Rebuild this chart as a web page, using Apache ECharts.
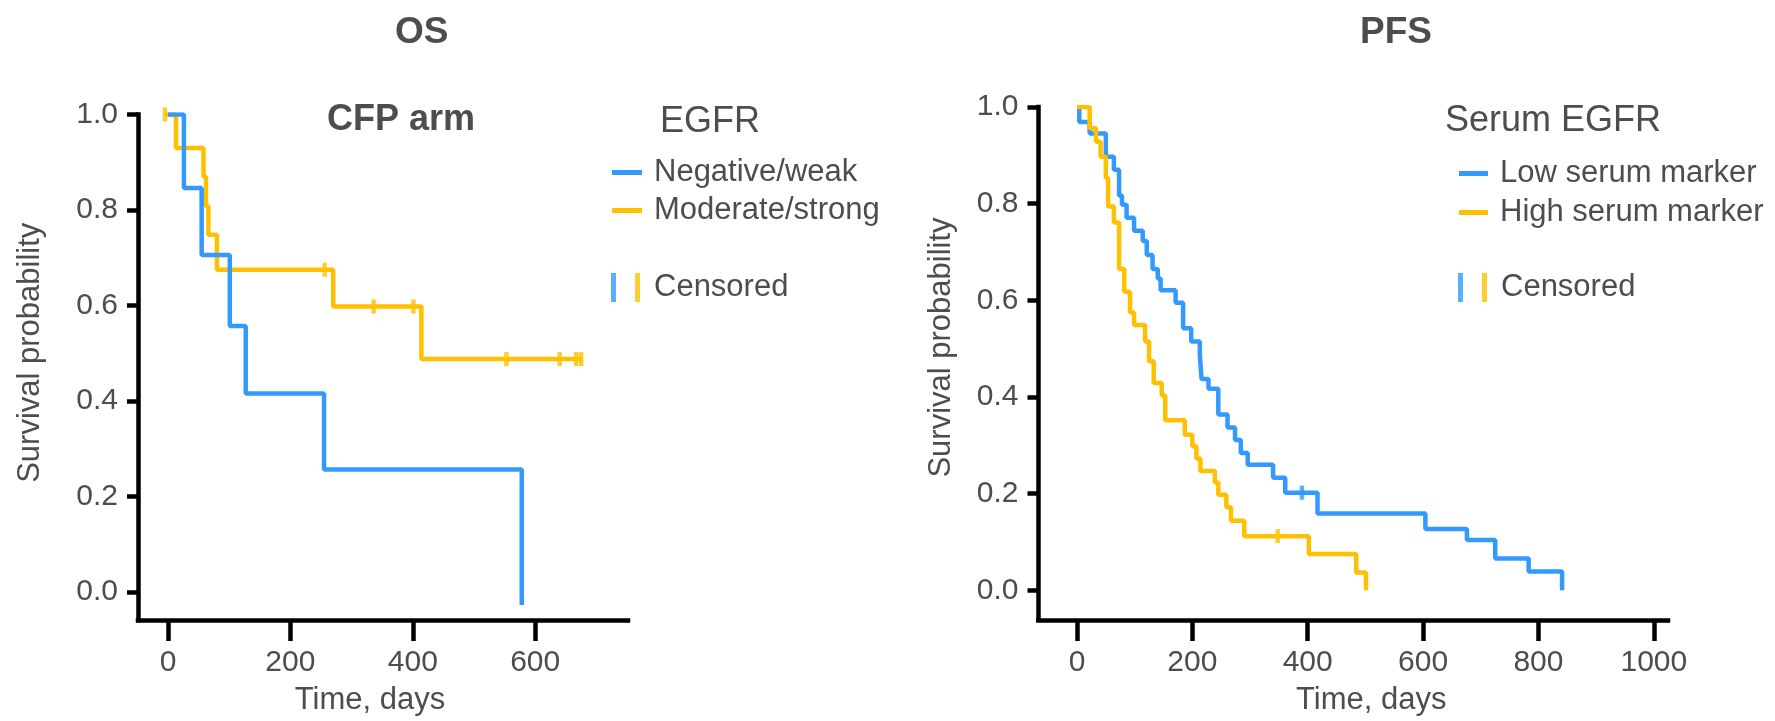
<!DOCTYPE html>
<html>
<head>
<meta charset="utf-8">
<title>OS / PFS</title>
<script src="https://cdn.jsdelivr.net/npm/echarts@6/dist/echarts.min.js"></script>
<style>
html, body { margin: 0; padding: 0; background: #fff; }
#chart { width: 1775px; height: 721px; }
</style>
</head>
<body>
<div id="chart"></div>
<script>
// OS, CFP arm -- [time in days, survival probability]
var osNegWeak = [[0, 1], [26, 0.846], [55, 0.706], [101, 0.557], [127, 0.416], [255, 0.257], [578, -0.027]];
var osModStrong = [[-5, 1], [13, 0.930], [58, 0.870], [62, 0.808], [66, 0.748], [80, 0.675], [270, 0.598], [414, 0.488], [677, 0.488]];
var osCensorMod = [[-5, 1], [256, 0.675], [336, 0.598], [401, 0.598], [553, 0.488], [640, 0.488], [667, 0.488], [675, 0.488]];

// PFS, serum EGFR
var pfsLow = [[0, 1], [4, 0.969], [22, 0.945], [50, 0.897], [64, 0.870], [73, 0.817], [78, 0.798], [86, 0.771],
  [99, 0.744], [114, 0.723], [121, 0.694], [131, 0.665], [140, 0.645], [145, 0.621], [171, 0.595], [184, 0.542],
  [198, 0.515], [213, 0.487], [216, 0.437], [228, 0.417], [245, 0.364], [261, 0.337], [274, 0.311], [284, 0.284],
  [296, 0.260], [340, 0.233], [361, 0.202], [417, 0.159], [604, 0.127], [676, 0.104], [725, 0.066], [783, 0.039], [841, 0]];
var pfsHigh = [[0, 1], [22, 0.956], [33, 0.928], [41, 0.897], [50, 0.853], [54, 0.794], [64, 0.761], [73, 0.665],
  [82, 0.618], [92, 0.575], [99, 0.549], [118, 0.515], [125, 0.474], [133, 0.429], [147, 0.403], [153, 0.352],
  [187, 0.322], [200, 0.298], [207, 0.273], [214, 0.247], [239, 0.223], [245, 0.198], [259, 0.172], [267, 0.144],
  [290, 0.112], [402, 0.075], [484, 0.037], [501, 0]];
var pfsCensorLow = [[390, 0.202]];
var pfsCensorHigh = [[348, 0.112]];

var yTicks = [0, 0.2, 0.4, 0.6, 0.8, 1];
var osXTicks = [0, 200, 400, 600];
var pfsXTicks = [0, 200, 400, 600, 800, 1000];

var blue = '#3399ff';
var gold = '#ffc000';
var grey = '#4d4d4d';
var font = "'Liberation Sans', Arial, sans-serif";

var censorSvg = "<svg xmlns='http://www.w3.org/2000/svg' width='38' height='29'>" +
  "<rect x='0' y='0' width='5' height='29' fill='" + blue + "'/>" +
  "<rect x='24' y='0' width='5' height='29' fill='" + gold + "'/></svg>";
var censorIcon = 'image://data:image/svg+xml;charset=utf-8,' + encodeURIComponent(censorSvg);

function xAxisCfg(idx, min, max, ticks, pad) {
  return {
    gridIndex: idx, type: 'value', min: min, max: max,
    axisLine: { show: true, onZero: false, lineStyle: { color: '#000', width: 4.5, cap: 'square' } },
    axisTick: { show: true, length: 21, customValues: ticks, lineStyle: { color: '#000', width: 4.5 } },
    axisLabel: {
      customValues: ticks, fontSize: 30, color: grey, fontFamily: font, margin: 28,
      formatter: function (v) { return String(v); }
    },
    splitLine: { show: false },
    name: 'Time, days', nameLocation: 'middle', nameGap: 65,
    nameTextStyle: { fontSize: 31, color: grey, fontFamily: font, padding: pad }
  };
}

function yAxisCfg(idx, min, gap, pad) {
  return {
    gridIndex: idx, type: 'value', min: min, max: 1,
    axisLine: { show: true, onZero: false, lineStyle: { color: '#000', width: 4.5, cap: 'square' } },
    axisTick: { show: true, length: 11, customValues: yTicks, lineStyle: { color: '#000', width: 4.5 } },
    axisLabel: {
      customValues: yTicks, fontSize: 30, color: grey, fontFamily: font, margin: 20,
      formatter: function (v) { return v.toFixed(1); }
    },
    splitLine: { show: false },
    name: 'Survival probability', nameLocation: 'middle', nameRotate: 90, nameGap: gap,
    nameTextStyle: { fontSize: 31, color: grey, fontFamily: font, padding: pad }
  };
}

function km(name, data, color, idx, z) {
  return {
    name: name, type: 'line', step: 'end', data: data,
    xAxisIndex: idx, yAxisIndex: idx, showSymbol: false, z: z,
    lineStyle: { color: color, width: 4.5 }, itemStyle: { color: color },
    silent: true
  };
}

function censor(data, color, idx) {
  return {
    name: 'Censored', type: 'scatter', data: data,
    xAxisIndex: idx, yAxisIndex: idx, symbol: 'rect', symbolSize: [4.5, 14], z: 5,
    itemStyle: { color: color }, silent: true
  };
}

var legendText = { fontSize: 31, color: grey, fontFamily: font, padding: [0, 0, 0, 7] };
var censorText = { fontSize: 31, color: grey, fontFamily: font };
var titleBold = { fontSize: 37, fontWeight: 'bold', color: grey, fontFamily: font };

var chart = echarts.init(document.getElementById('chart'), null, { renderer: 'canvas' });
chart.setOption({
  animation: false,
  backgroundColor: '#fff',
  title: [
    { text: 'OS', left: 395, top: 14, padding: 0, textStyle: titleBold },
    { text: 'PFS', left: 1360, top: 14, padding: 0, textStyle: titleBold },
    { text: 'CFP arm', left: 327, top: 102, padding: 0, textStyle: { fontSize: 36, fontWeight: 'bold', color: grey, fontFamily: font } },
    { text: 'EGFR', left: 660, top: 104, padding: 0, textStyle: { fontSize: 36, fontWeight: 'normal', color: grey, fontFamily: font } },
    { text: 'Serum EGFR', left: 1445, top: 103, padding: 0, textStyle: { fontSize: 36, fontWeight: 'normal', color: grey, fontFamily: font } }
  ],
  legend: [
    { data: [{ name: 'Negative/weak', icon: 'rect' }, { name: 'Moderate/strong', icon: 'rect' }],
      orient: 'vertical', left: 612, top: 157, padding: 0, itemWidth: 30, itemHeight: 5, itemGap: 7,
      selectedMode: false, textStyle: legendText },
    { data: [{ name: 'Censored', icon: censorIcon }],
      orient: 'vertical', left: 611, top: 272, padding: 0, itemWidth: 38, itemHeight: 29,
      selectedMode: false, textStyle: censorText },
    { data: [{ name: 'Low serum marker', icon: 'rect' }, { name: 'High serum marker', icon: 'rect' }],
      orient: 'vertical', left: 1459, top: 158, padding: 0, itemWidth: 29, itemHeight: 5, itemGap: 8,
      selectedMode: false, textStyle: legendText },
    { data: [{ name: 'Censored', icon: censorIcon }],
      orient: 'vertical', left: 1458, top: 272, padding: 0, itemWidth: 38, itemHeight: 29,
      selectedMode: false, textStyle: censorText }
  ],
  grid: [
    { left: 138, top: 114.5, width: 490, height: 512 },
    { left: 1038.5, top: 107, width: 629.5, height: 519.5 }
  ],
  xAxis: [
    xAxisCfg(0, -49, 751.6, osXTicks, [0, 26, 0, 0]),
    xAxisCfg(1, -66.7, 1024.6, pfsXTicks, [0, 0, 0, 36])
  ],
  yAxis: [
    yAxisCfg(0, -0.0583, 92, [0, 0, 0, 29]),
    yAxisCfg(1, -0.0614, 82, [0, 0, 0, 32])
  ],
  series: [
    km('Moderate/strong', osModStrong, gold, 0, 2),
    km('Negative/weak', osNegWeak, blue, 0, 3),
    censor(osCensorMod, gold, 0),
    km('Low serum marker', pfsLow, blue, 1, 2),
    km('High serum marker', pfsHigh, gold, 1, 3),
    censor(pfsCensorLow, blue, 1),
    censor(pfsCensorHigh, gold, 1)
  ]
});
</script>
</body>
</html>
